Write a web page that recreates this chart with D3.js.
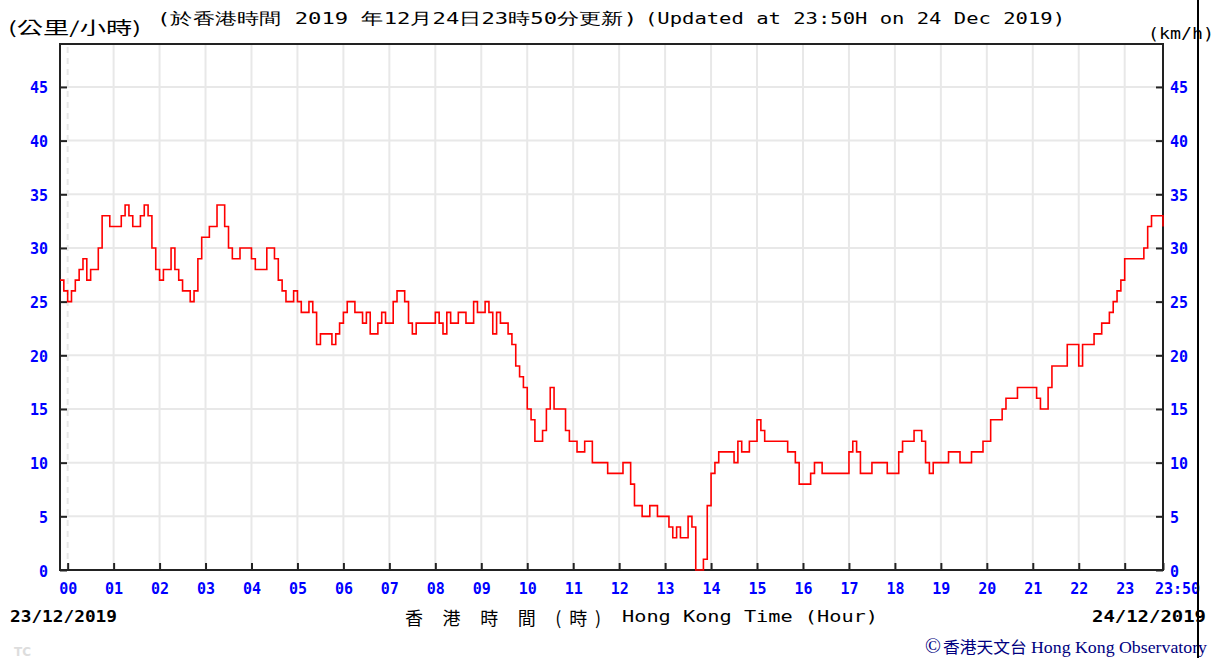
<!DOCTYPE html>
<html>
<head>
<meta charset="utf-8">
<script src="https://cdn.jsdelivr.net/npm/d3@7/dist/d3.min.js"></script>
<style>
  body { margin: 0; background: #fff; }
  svg { display: block; }
  .mono { font-family: "DejaVu Sans Mono", "Liberation Mono", monospace; }
  .cjk { font-family: "Noto Sans CJK TC", "Noto Sans CJK SC", sans-serif; }
  .tick-lbl { font-family: "DejaVu Sans Mono", monospace; font-weight: bold; font-size: 15px; fill: #0000ff; }
</style>
</head>
<body>
<svg id="chart" width="1223" height="658"></svg>
<script>
// 10-min mean wind speed (km/h), one reading every 5 minutes from 23:50 on 23/12
const startMinute = -10;
const stepMinutes = 5;
const speeds = [
  27, 26,                                         // 23:50, 23:55
  25, 26, 27, 28, 29, 27, 28, 28, 30, 33, 33, 32, // 00
  32, 32, 33, 34, 33, 32, 32, 33, 34, 33, 30, 28, // 01
  27, 28, 28, 30, 28, 27, 26, 26, 25, 26, 29, 31, // 02
  31, 32, 32, 34, 34, 32, 30, 29, 29, 30, 30, 30, // 03
  29, 28, 28, 28, 30, 30, 29, 27, 26, 25, 25, 26, // 04
  25, 24, 24, 25, 24, 21, 22, 22, 22, 21, 22, 23, // 05
  24, 25, 25, 24, 24, 23, 24, 22, 22, 23, 24, 23, // 06
  23, 25, 26, 26, 25, 23, 22, 23, 23, 23, 23, 23, // 07
  24, 23, 22, 24, 23, 23, 24, 24, 23, 23, 25, 24, // 08
  24, 25, 24, 22, 24, 23, 23, 22, 21, 19, 18, 17, // 09
  15, 14, 12, 12, 13, 15, 17, 15, 15, 15, 13, 12, // 10
  12, 11, 11, 12, 12, 10, 10, 10, 10,  9,  9,  9, // 11
   9, 10, 10,  8,  6,  6,  5,  5,  6,  6,  5,  5, // 12
   5,  4,  3,  4,  3,  3,  5,  4,  0,  0,  1,  6, // 13
   9, 10, 11, 11, 11, 11, 10, 12, 11, 11, 12, 12, // 14
  14, 13, 12, 12, 12, 12, 12, 12, 11, 11, 10,  8, // 15
   8,  8,  9, 10, 10,  9,  9,  9,  9,  9,  9,  9, // 16
  11, 12, 11,  9,  9,  9, 10, 10, 10, 10,  9,  9, // 17
   9, 11, 12, 12, 12, 13, 13, 12, 10,  9, 10, 10, // 18
  10, 10, 11, 11, 11, 10, 10, 10, 11, 11, 11, 12, // 19
  12, 14, 14, 14, 15, 16, 16, 16, 17, 17, 17, 17, // 20
  17, 16, 15, 15, 17, 19, 19, 19, 19, 21, 21, 21, // 21
  19, 21, 21, 21, 22, 22, 23, 23, 24, 25, 26, 27, // 22
  29, 29, 29, 29, 29, 30, 32, 33, 33, 33, 32      // 23 .. 23:50
];
const hourTicks = d3.range(0, 24);
const hourLabels = hourTicks.map(d3.format("02d"));
const yTicks = [0, 5, 10, 15, 20, 25, 30, 35, 40, 45];
const endLabel = "23:50";

const svg = d3.select("#chart");
const W = 1223, H = 658;

const x = d3.scaleLinear().domain([-10, 1430]).range([60, 1163]);
const y = d3.scaleLinear().domain([0, 49]).range([570, 44]);

const data = speeds.map((v, i) => ({ t: startMinute + i * stepMinutes, v: v }));

// grid
const grid = svg.append("g").attr("stroke", "#e8e8e8").attr("stroke-width", 2);
grid.selectAll("line.gy").data(yTicks.filter(d => d > 0)).join("line")
  .attr("x1", x.range()[0]).attr("x2", x.range()[1])
  .attr("y1", d => y(d)).attr("y2", d => y(d));
grid.selectAll("line.gx").data(hourTicks).join("line")
  .attr("x1", d => x(d * 60)).attr("x2", d => x(d * 60))
  .attr("y1", y(0)).attr("y2", y.range()[1])
  .attr("stroke-dasharray", d => d === 0 ? "6,5" : null);

// frame
svg.append("rect")
  .attr("x", x.range()[0]).attr("y", y.range()[1])
  .attr("width", x.range()[1] - x.range()[0]).attr("height", y(0) - y.range()[1])
  .attr("fill", "none").attr("stroke", "#222").attr("stroke-width", 2);

// axes
const yLeft = svg.append("g").attr("transform", `translate(${x.range()[0]},0)`)
  .call(d3.axisLeft(y).tickValues(yTicks).tickSize(-7).tickPadding(12));
const yRight = svg.append("g").attr("transform", `translate(${x.range()[1]},0)`)
  .call(d3.axisRight(y).tickValues(yTicks).tickSize(-7).tickPadding(7));
const xAxis = svg.append("g").attr("transform", `translate(0,${y(0)})`)
  .call(d3.axisBottom(x).tickValues(hourTicks.map(h => h * 60).concat([1430]))
    .tickFormat((d, i) => i < hourLabels.length ? hourLabels[i] : endLabel)
    .tickSize(-7).tickPadding(13));

[yLeft, yRight, xAxis].forEach(g => {
  g.select(".domain").remove();
  g.selectAll(".tick line").attr("stroke", "#222").attr("stroke-width", 2);
  g.selectAll(".tick text").attr("class", "tick-lbl").attr("fill", null);
});
yLeft.selectAll(".tick text").attr("dy", "0.4em");
yRight.selectAll(".tick text").attr("dy", "0.4em");
xAxis.selectAll(".tick text").filter(d => d === 1430).attr("dx", 14);

// wind line
const line = d3.line().x(d => x(d.t)).y(d => y(d.v)).curve(d3.curveStepAfter);
svg.append("path").datum(data)
  .attr("d", line)
  .attr("fill", "none").attr("stroke", "#ff0000").attr("stroke-width", 1.6);

// texts
svg.append("text").attr("class", "cjk").attr("x", 8).attr("y", 34)
  .attr("font-size", 17).attr("textLength", 133).attr("lengthAdjust", "spacingAndGlyphs")
  .text("(公里/小時)");
svg.append("text").attr("class", "mono").attr("x", 157).attr("y", 24)
  .attr("font-size", 16).attr("textLength", 480).attr("lengthAdjust", "spacingAndGlyphs")
  .text("(於香港時間 2019 年12月24日23時50分更新)");
svg.append("text").attr("class", "mono").attr("x", 645).attr("y", 24)
  .attr("font-size", 16).attr("textLength", 420).attr("lengthAdjust", "spacingAndGlyphs")
  .text("(Updated at 23:50H on 24 Dec 2019)");
svg.append("text").attr("class", "mono").attr("x", 1148).attr("y", 39)
  .attr("font-size", 16).attr("textLength", 66).attr("lengthAdjust", "spacingAndGlyphs")
  .text("(km/h)");

svg.append("text").attr("class", "mono").attr("x", 10).attr("y", 622)
  .attr("font-size", 15).attr("font-weight", "bold")
  .attr("textLength", 107).attr("lengthAdjust", "spacingAndGlyphs")
  .text("23/12/2019");
svg.append("text").attr("class", "mono").attr("x", 1092).attr("y", 622)
  .attr("font-size", 15).attr("font-weight", "bold")
  .attr("textLength", 114).attr("lengthAdjust", "spacingAndGlyphs")
  .text("24/12/2019");

svg.append("text").attr("class", "cjk").attr("x", 405).attr("y", 625)
  .attr("font-size", 18).attr("textLength", 196).attr("lengthAdjust", "spacing")
  .text("香 港 時 間 (時)");
svg.append("text").attr("class", "mono").attr("x", 622).attr("y", 622)
  .attr("font-size", 16).attr("textLength", 256).attr("lengthAdjust", "spacingAndGlyphs")
  .text("Hong Kong Time (Hour)");

svg.append("text").attr("x", 14).attr("y", 656)
  .attr("font-family", "DejaVu Sans").attr("font-weight", "bold").attr("font-size", 12)
  .attr("fill", "#dddddd").text("TC");

const credit = svg.append("text").attr("x", 925).attr("y", 653)
  .attr("fill", "#000080").attr("font-size", 17)
  .attr("textLength", 282).attr("lengthAdjust", "spacingAndGlyphs")
  .attr("font-family", "'Liberation Serif', 'DejaVu Serif', serif");
credit.append("tspan").attr("font-size", 20).text("©");
credit.append("tspan").attr("class", "cjk").attr("font-size", 16).attr("dx", 2).text("香港天文台");
credit.append("tspan").attr("dx", 4).text("Hong Kong Observatory");

// image edge line on the right
svg.append("line").attr("x1", 1198).attr("x2", 1198).attr("y1", 0).attr("y2", H)
  .attr("stroke", "#000").attr("stroke-width", 2);
</script>
</body>
</html>
